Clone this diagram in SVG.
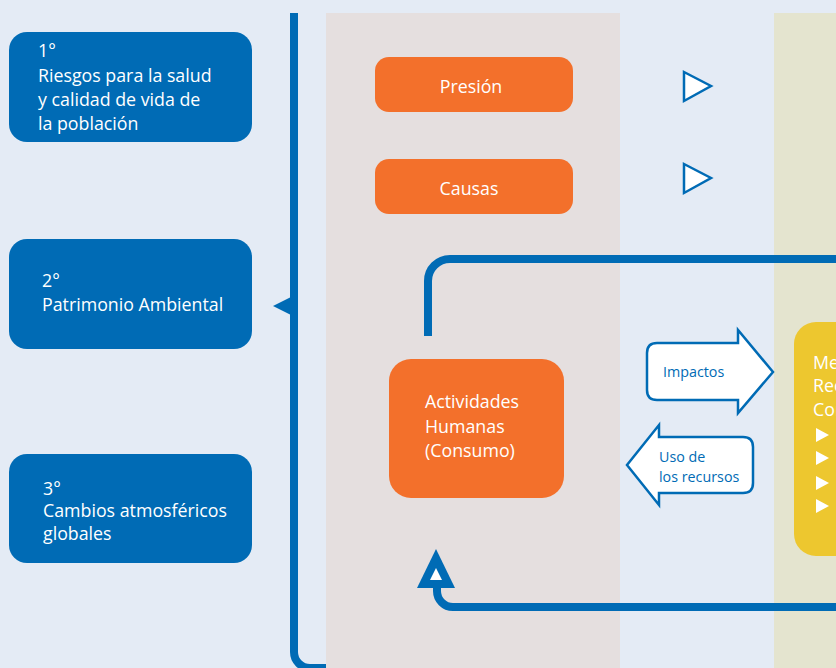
<svg xmlns="http://www.w3.org/2000/svg" width="836" height="668" viewBox="0 0 836 668">
<defs>
<style>
.bluebox{fill:#006BB5}
.orange{fill:#F3702B}
.wt{fill:#FFFFFF;font-family:"Open Sans","Noto Sans","DejaVu Sans",sans-serif;font-size:17.8px}
.bt{fill:#006BB5;font-family:"Open Sans","Noto Sans","DejaVu Sans",sans-serif;font-size:14.3px}
.line{fill:none;stroke:#006BB5;stroke-width:8}
.outline{fill:#FFFFFF;stroke:#006BB5;stroke-width:2.5;stroke-linejoin:miter}
</style>
</defs>
<rect x="0" y="0" width="836" height="668" fill="#E4EBF5"/>
<rect x="326" y="13" width="294" height="655" fill="#E5DFDF"/>
<rect x="774" y="13" width="62" height="655" fill="#E4E4CF"/>

<g id="connectors">
<path class="line" d="M294,13 V652 A16,16 0 0 0 310,668 H326"/>
<polygon points="273,306 291,297 291,315" fill="#006BB5"/>
<path class="line" d="M428,336 V281 A22,22 0 0 1 450,259 H836"/>
<path class="line" d="M437,586 V591 A16,16 0 0 0 453,607 H836"/>
<polygon points="436,549 417,588 455,588" fill="#006BB5"/>
<polygon points="436,568 430,580 442,580" fill="#FFFFFF"/>
<polygon class="outline" points="684,72 711,86 684,101"/>
<polygon class="outline" points="684,164 711,178 684,193"/>
</g>

<g id="n1">
<rect class="bluebox" x="9" y="32" width="243" height="110" rx="18"/>
<text class="wt" x="38" y="57">1°</text>
<text class="wt" x="38" y="82">Riesgos para la salud</text>
<text class="wt" x="38" y="106">y calidad de vida de</text>
<text class="wt" x="38" y="130">la población</text>
</g>
<g id="n2">
<rect class="bluebox" x="9" y="239" width="243" height="110" rx="18"/>
<text class="wt" x="42" y="287">2°</text>
<text class="wt" x="42" y="311">Patrimonio Ambiental</text>
</g>
<g id="n3">
<rect class="bluebox" x="9" y="454" width="243" height="109" rx="18"/>
<text class="wt" x="43" y="495">3°</text>
<text class="wt" x="43" y="517">Cambios atmosféricos</text>
<text class="wt" x="43" y="540">globales</text>
</g>

<g id="presion">
<rect class="orange" x="375" y="57" width="198" height="55" rx="14"/>
<text class="wt" x="471" y="93" text-anchor="middle">Presión</text>
</g>
<g id="causas">
<rect class="orange" x="375" y="159" width="198" height="55" rx="14"/>
<text class="wt" x="469" y="195" text-anchor="middle">Causas</text>
</g>
<g id="actividades">
<rect class="orange" x="389" y="359" width="175" height="139" rx="22"/>
<text class="wt" x="425" y="408">Actividades</text>
<text class="wt" x="425" y="433">Humanas</text>
<text class="wt" x="425" y="457">(Consumo)</text>
</g>

<g id="impactos">
<path class="outline" d="M657,343 H738 V330 L773,372 L738,413 V400 H657 Q647,400 647,390 V353 Q647,343 657,343 Z"/>
<text class="bt" x="663" y="377">Impactos</text>
</g>
<g id="uso">
<path class="outline" d="M743,437 H659 V425 L627,465 L659,505 V493 H743 Q753,493 753,483 V447 Q753,437 743,437 Z"/>
<text class="bt" x="659" y="462">Uso de</text>
<text class="bt" x="659" y="482">los recursos</text>
</g>

<g id="yellow">
<rect x="794" y="322" width="80" height="234" rx="22" fill="#EDC72F"/>
<text class="wt" x="813" y="369">Me</text>
<text class="wt" x="813" y="392">Rec</text>
<text class="wt" x="813" y="416">Con</text>
<polygon points="816,428 829,435 816,442" fill="#FFFFFF"/>
<polygon points="816,451 829,458 816,465" fill="#FFFFFF"/>
<polygon points="816,476 829,483 816,490" fill="#FFFFFF"/>
<polygon points="816,499 829,506 816,513" fill="#FFFFFF"/>
</g>
</svg>
